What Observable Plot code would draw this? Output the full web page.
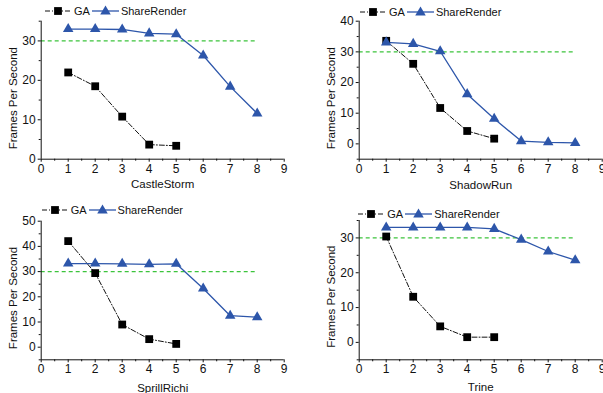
<!DOCTYPE html>
<html>
<head>
<meta charset="utf-8">
<script src="https://cdn.jsdelivr.net/npm/d3@7"></script>
<script src="https://cdn.jsdelivr.net/npm/@observablehq/plot@0.6"></script>
<style>
  html, body { margin: 0; padding: 0; background: white; }
  body { width: 603px; height: 393px; overflow: hidden; font-family: "Liberation Sans", Arial, sans-serif; }
  #root { position: relative; width: 603px; height: 393px; }
  .panel { position: absolute; }
  .legend { position: absolute; display: flex; align-items: center; font-size: 11px; color: #111; white-space: nowrap; line-height: 1; }
  .legend svg { display: block; }
</style>
</head>
<body>
<div id="root"></div>
<script>
// ---- Data ----
const gaX = [1, 2, 3, 4, 5];
const srX = [1, 2, 3, 4, 5, 6, 7, 8];
const seriesNames = ["GA", "ShareRender"];
const gameNames = ["CastleStorm", "ShadowRun", "SprillRichi", "Trine"];

const castleGA = [22.0, 18.5, 10.8, 3.7, 3.4];
const castleSR = [33.0, 33.0, 32.9, 31.9, 31.7, 26.3, 18.4, 11.6];
const shadowGA = [33.6, 26.1, 11.7, 4.2, 1.7];
const shadowSR = [33.1, 32.6, 30.2, 16.2, 8.2, 0.9, 0.5, 0.3];
const sprillGA = [42.1, 29.4, 9.0, 3.2, 1.3];
const sprillSR = [33.2, 33.2, 33.1, 32.9, 33.1, 23.3, 12.5, 11.9];
const trineGA = [30.4, 13.1, 4.6, 1.5, 1.5];
const trineSR = [33.0, 33.0, 33.0, 33.0, 32.6, 29.5, 26.1, 23.6];

const targetFps = [{fps: 30, from: 0, to: 8}];
const xMajorTicks = [0, 1, 2, 3, 4, 5, 6, 7, 8, 9];
const xMinorTicks = [0.5, 1.5, 2.5, 3.5, 4.5, 5.5, 6.5, 7.5, 8.5];
const yTitle = "Frames Per Second";

// ---- Layout ----
const BLUE = "#2d56aa";
const panels = [
  {name: gameNames[0], ga: castleGA, sr: castleSR, yDomain: [0, 35], yMajor: [0, 10, 20, 30], yMinor: [5, 15, 25, 35],
   left: 0, top: 0, width: 300, height: 195, mL: 40.7, mR: 16.3, mT: 20.7, mB: 36.3, xtDy: 25.5, ytDy: 8,
   lgLeft: 45, lgY: 11},
  {name: gameNames[1], ga: shadowGA, sr: shadowSR, yDomain: [-5, 40], yMajor: [0, 10, 20, 30, 40], yMinor: [-5, 5, 15, 25, 35],
   left: 300, top: 0, width: 303, height: 195, mL: 58.7, mR: 1.3, mT: 20.7, mB: 36.3, xtDy: 26.3, ytDy: 8,
   lgLeft: 360, lgY: 12.3},
  {name: gameNames[2], ga: sprillGA, sr: sprillSR, yDomain: [-5, 50], yMajor: [0, 10, 20, 30, 40, 50], yMinor: [-5, 5, 15, 25, 35, 45],
   left: 0, top: 195, width: 300, height: 198, mL: 40.7, mR: 16.3, mT: 25.7, mB: 33.7, xtDy: 28.4, ytDy: 7.5,
   lgLeft: 41.7, lgY: 210},
  {name: gameNames[3], ga: trineGA, sr: trineSR, yDomain: [-5, 35], yMajor: [0, 10, 20, 30], yMinor: [-5, 5, 15, 25, 35],
   left: 300, top: 195, width: 303, height: 198, mL: 58.7, mR: 1.3, mT: 25, mB: 33.7, xtDy: 27.4, ytDy: 6.5,
   lgLeft: 358.3, lgY: 214}
];

const root = document.getElementById("root");

for (const p of panels) {
  const gaData = gaX.map((x, i) => ({x, y: p.ga[i]}));
  const srData = srX.map((x, i) => ({x, y: p.sr[i]}));
  const chart = Plot.plot({
    width: p.width,
    height: p.height,
    marginLeft: p.mL, marginRight: p.mR, marginTop: p.mT, marginBottom: p.mB,
    style: {fontFamily: "'Liberation Sans', Arial, sans-serif", fontSize: "12px", color: "#111", background: "white", maxWidth: "none"},
    x: {domain: [0, 9]},
    y: {domain: p.yDomain},
    marks: [
      Plot.ruleY(targetFps, {y: "fps", x1: "from", x2: "to", stroke: "#3cc43c", strokeDasharray: "4,3", strokeWidth: 1.1}),
      Plot.ruleX([0], {stroke: "#111", strokeWidth: 1}),
      Plot.ruleY([p.yDomain[0]], {stroke: "#111", strokeWidth: 1}),
      Plot.axisX(xMajorTicks, {tickSize: 3, tickPadding: 2, stroke: "#111"}),
      Plot.axisX(xMinorTicks, {tickSize: 2, tickFormat: () => "", stroke: "#111"}),
      Plot.axisY(p.yMajor, {tickSize: 3, tickPadding: 2.5, stroke: "#111"}),
      Plot.axisY(p.yMinor, {tickSize: 2, tickFormat: () => "", stroke: "#111"}),
      Plot.line(gaData, {x: "x", y: "y", stroke: "#111", strokeWidth: 1, strokeDasharray: "5,2,1,2"}),
      Plot.line(srData, {x: "x", y: "y", stroke: BLUE, strokeWidth: 1.3}),
      Plot.dot(gaData, {x: "x", y: "y", symbol: "square", fill: "#000", r: 4.4}),
      Plot.dot(srData, {x: "x", y: "y", symbol: "triangle", fill: BLUE, r: 3.9}),
      Plot.text([p.name], {frameAnchor: "bottom", lineAnchor: "middle", textAnchor: "middle", dy: p.xtDy, fontSize: 11.5, fill: "#111"}),
      Plot.text([yTitle], {frameAnchor: "left", rotate: -90, textAnchor: "middle", lineAnchor: "middle", dx: -27.5, dy: p.ytDy, fontSize: 11.5, fill: "#111"})
    ]
  });
  const div = document.createElement("div");
  div.className = "panel";
  div.style.left = p.left + "px";
  div.style.top = p.top + "px";
  div.style.width = p.width + "px";
  div.style.height = p.height + "px";
  div.appendChild(chart);
  root.appendChild(div);

  // legend
  const lg = document.createElement("div");
  lg.className = "legend";
  lg.style.left = p.lgLeft + "px";
  lg.style.top = (p.lgY - 6) + "px";
  lg.style.height = "12px";
  const sym = (kind) => {
    const ns = "http://www.w3.org/2000/svg";
    const s = document.createElementNS(ns, "svg");
    const w = kind === "square" ? 26 : 27;
    s.setAttribute("width", w);
    s.setAttribute("height", 12);
    const ln = document.createElementNS(ns, "line");
    ln.setAttribute("x1", 0); ln.setAttribute("x2", w);
    ln.setAttribute("y1", 6); ln.setAttribute("y2", 6);
    ln.setAttribute("stroke", kind === "square" ? "#111" : BLUE);
    ln.setAttribute("stroke-width", kind === "square" ? 1 : 1.3);
    if (kind === "square") ln.setAttribute("stroke-dasharray", "5,2,1,2");
    s.appendChild(ln);
    const path = document.createElementNS(ns, "path");
    if (kind === "square") {
      path.setAttribute("d", d3.symbol(d3.symbolSquare, Math.PI * 4.4 * 4.4)());
      path.setAttribute("fill", "#000");
      path.setAttribute("transform", "translate(13,6)");
    } else {
      path.setAttribute("d", d3.symbol(d3.symbolTriangle, Math.PI * 3.9 * 3.9)());
      path.setAttribute("fill", BLUE);
      path.setAttribute("transform", "translate(13.5,6.5)");
    }
    s.appendChild(path);
    return s;
  };
  const t1 = document.createElement("span"); t1.textContent = seriesNames[0];
  t1.style.margin = "0 2px 0 3px";
  const t2 = document.createElement("span"); t2.textContent = seriesNames[1];
  t2.style.marginLeft = "2px";
  lg.appendChild(sym("square"));
  lg.appendChild(t1);
  lg.appendChild(sym("triangle"));
  lg.appendChild(t2);
  root.appendChild(lg);
}
</script>
</body>
</html>
